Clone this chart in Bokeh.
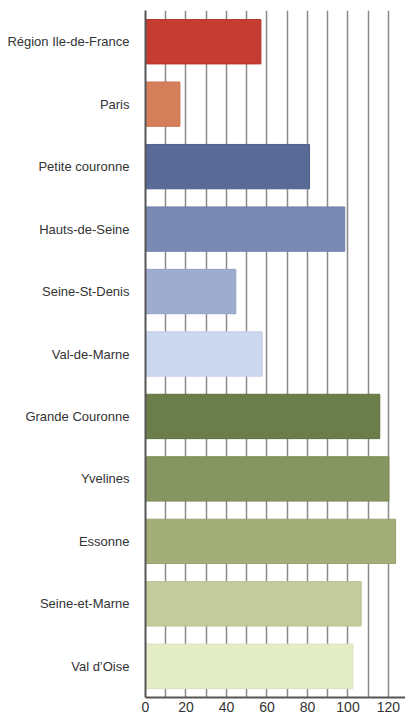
from bokeh.plotting import figure
from bokeh.models import ColumnDataSource, FactorRange, Range1d, FixedTicker
from bokeh.embed import file_html
from bokeh.resources import INLINE

categories = ["Région Ile-de-France", "Paris", "Petite couronne", "Hauts-de-Seine",
              "Seine-St-Denis", "Val-de-Marne", "Grande Couronne", "Yvelines",
              "Essonne", "Seine-et-Marne", "Val d’Oise"]
values = [57, 17, 81, 98.4, 44.6, 57.6, 115.7, 120.2, 123.5, 106.5, 102.4]
colors = ["#c43c32", "#d47f5a", "#5a6a97", "#7a8ab3", "#9eacd0", "#cbd8ef",
          "#6b7d4a", "#879660", "#a3ad78", "#c4cb9c", "#e5ecc8"]
outline = ["#b8322a", "#c9744f", "#4f5f8c", "#6f7fa8", "#93a1c5", "#c0cde4",
           "#61723f", "#7c8b55", "#98a26d", "#b9c091", "#dae1bd"]
x_ticks = [0, 20, 40, 60, 80, 100, 120]
grid_ticks = list(range(0, 130, 10))

src = ColumnDataSource(dict(cat=categories, val=values, color=colors, line=outline))

p = figure(width=405, height=717, output_backend="svg", toolbar_location=None,
           y_range=FactorRange(*reversed(categories), range_padding=0),
           x_range=Range1d(0, 128.4),
           min_border_left=145, min_border_right=0, min_border_top=10, min_border_bottom=20)
p.outline_line_color = None
p.background_fill_color = "white"
p.border_fill_color = "white"

p.hbar(y="cat", right="val", left=0, height=0.71, fill_color="color",
       line_color="line", line_width=1, source=src)

p.xgrid.ticker = FixedTicker(ticks=grid_ticks)
p.xgrid.grid_line_color = "#8a8a8a"
p.xgrid.grid_line_width = 1.5
p.xgrid.level = "underlay"
p.ygrid.grid_line_color = None

p.xaxis.ticker = FixedTicker(ticks=x_ticks)
p.xaxis.major_tick_out = 0
p.xaxis.major_tick_in = 0
p.xaxis.minor_tick_line_color = None
p.xaxis.axis_line_color = "#555555"
p.xaxis.axis_line_width = 2
p.xaxis.major_label_text_font = "Liberation Sans"
p.xaxis.major_label_text_font_size = "14px"
p.xaxis.major_label_text_color = "#333333"
p.xaxis.major_label_standoff = 4

p.yaxis.major_tick_line_color = None
p.yaxis.minor_tick_line_color = None
p.yaxis.axis_line_color = "#555555"
p.yaxis.axis_line_width = 2
p.yaxis.major_label_text_font = "Liberation Sans"
p.yaxis.major_label_text_font_size = "13px"
p.yaxis.major_label_text_color = "#333333"
p.yaxis.major_label_standoff = 10

open("out.html", "w").write(file_html(p, INLINE))
